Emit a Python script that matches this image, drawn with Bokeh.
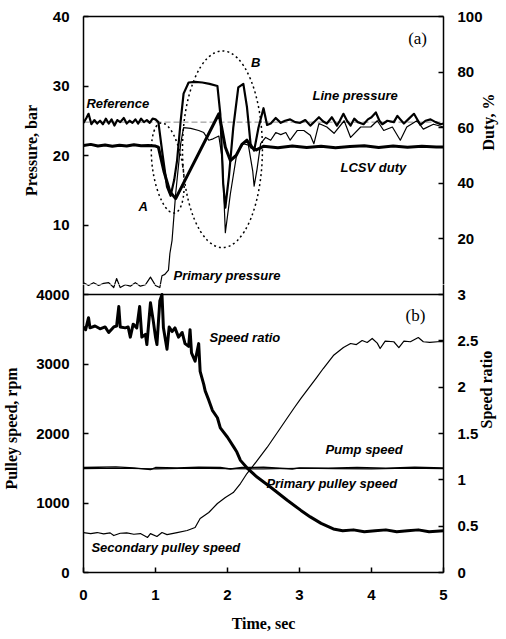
import math
from bokeh.plotting import figure
from bokeh.layouts import column
from bokeh.models import Range1d, LinearAxis, FixedTicker, NumeralTickFormatter, Label, Span
from bokeh.embed import file_html
from bokeh.resources import INLINE

# ---------------- data: panel (a) ----------------
t_ref = [0.0, 5.0]
reference = [24.8, 24.8]

t_line = [0.00, 0.04, 0.07, 0.11, 0.15, 0.19, 0.23, 0.27, 0.31, 0.35, 0.39, 0.43, 0.47, 0.51,
          0.56, 0.60, 0.64, 0.68, 0.72, 0.76, 0.80, 0.84, 0.88, 0.92, 0.96, 1.00, 1.04,
          1.10, 1.16, 1.21, 1.26, 1.30, 1.35, 1.39, 1.46, 1.55, 1.65, 1.75, 1.86, 1.90, 1.94,
          1.97, 2.02, 2.08, 2.15, 2.22, 2.27, 2.32, 2.37, 2.43, 2.50, 2.55, 2.60, 2.67, 2.74,
          2.80, 2.87, 2.94, 3.01, 3.08, 3.15, 3.21, 3.27, 3.33, 3.38, 3.45, 3.52, 3.56, 3.61,
          3.66, 3.71, 3.76, 3.81, 3.89, 3.95, 4.00, 4.06, 4.11, 4.15, 4.22, 4.31, 4.36, 4.40,
          4.45, 4.52, 4.59, 4.64, 4.68, 4.75, 4.82, 4.89, 4.96, 5.00]
line_pressure = [24.7, 25.4, 26.0, 24.5, 25.1, 24.6, 25.0, 24.5, 25.3, 24.6, 25.2, 24.3, 25.1, 24.8,
                 25.4, 24.6, 25.0, 24.7, 25.2, 24.6, 25.3, 24.8, 25.1, 24.7, 25.3, 25.2, 24.8,
                 20.0, 15.5, 14.2, 16.5, 19.3, 25.0, 28.9, 30.5, 30.6, 30.5, 30.3, 30.0, 26.0, 16.0,
                 12.5, 17.0, 24.0, 29.8, 30.3, 27.0, 21.7, 20.7, 24.0, 26.8, 24.4, 24.6, 25.4, 24.7,
                 25.0, 25.2, 24.8, 24.7, 25.1, 24.3, 24.9, 25.5, 24.9, 24.6, 25.5, 24.3, 25.0, 26.0,
                 25.0, 24.3, 25.3, 24.8, 24.5, 25.2, 25.5, 26.2, 25.0, 24.5, 25.0, 24.8, 25.7, 25.2,
                 24.6, 25.3, 26.0, 25.1, 24.4, 25.0, 25.2, 24.8, 24.5, 24.6]

t_duty = [0.00, 0.10, 0.20, 0.30, 0.40, 0.50, 0.60, 0.70, 0.80, 0.90, 1.00, 1.04, 1.12, 1.20,
          1.28, 1.88, 1.92, 1.97, 2.04, 2.12, 2.20, 2.27, 2.33, 2.40, 2.50, 2.70, 2.90, 3.10,
          3.30, 3.50, 3.70, 3.90, 4.10, 4.30, 4.50, 4.70, 4.90, 5.00]
lcsv_duty = [53.6, 54.0, 53.4, 53.8, 53.3, 53.7, 53.4, 53.9, 53.5, 53.6, 53.4, 53.0, 44.0, 37.0,
             34.5, 65.0, 60.0, 53.0, 48.2, 50.0, 54.0, 55.5, 53.0, 52.0, 53.3, 52.8, 53.4, 52.9,
             53.3, 52.8, 53.2, 53.5, 52.9, 53.4, 53.0, 53.3, 53.1, 53.1]

t_prim = [0.00, 0.07, 0.14, 0.21, 0.28, 0.35, 0.42, 0.46, 0.51, 0.58, 0.65, 0.72, 0.79, 0.86,
          0.93, 1.00, 1.06, 1.09, 1.13, 1.18, 1.20, 1.23, 1.28, 1.35, 1.39, 1.49, 1.60, 1.67,
          1.74, 1.80, 1.88, 1.93, 1.97, 2.04, 2.13, 2.22, 2.29, 2.35, 2.37, 2.41, 2.46, 2.53,
          2.60, 2.67, 2.74, 2.81, 2.87, 2.97, 3.06, 3.15, 3.20, 3.27, 3.38, 3.48, 3.62, 3.71,
          3.85, 3.99, 4.08, 4.17, 4.29, 4.40, 4.49, 4.63, 4.72, 4.86, 5.00]
primary_pressure = [1.7, 1.3, 1.7, 1.3, 1.6, 1.7, 1.0, 2.3, 1.0, 1.4, 1.2, 1.7, 1.2, 1.4,
                    2.5, 1.3, 1.0, 2.7, 2.9, 3.5, 5.9, 7.8, 14.5, 21.7, 24.0, 23.9, 23.6, 23.3,
                    22.2, 22.4, 22.8, 19.3, 8.9, 14.5, 20.3, 21.7, 21.5, 17.8, 15.6, 18.0, 21.7, 22.6,
                    22.2, 23.3, 23.0, 23.3, 22.2, 23.6, 23.6, 22.9, 21.7, 24.6, 24.1, 23.2, 25.0, 22.6,
                    24.1, 24.1, 25.0, 23.6, 24.1, 22.2, 24.1, 25.0, 23.8, 24.5, 24.1]

# ---------------- data: panel (b) ----------------
t_ratio = [0.00, 0.03, 0.07, 0.09, 0.16, 0.23, 0.30, 0.35, 0.42, 0.46, 0.49, 0.51, 0.58, 0.62,
           0.65, 0.69, 0.74, 0.78, 0.81, 0.86, 0.88, 0.93, 0.97, 1.00, 1.02, 1.06, 1.09, 1.11,
           1.16, 1.19, 1.23, 1.27, 1.32, 1.37, 1.41, 1.46, 1.48, 1.50, 1.55, 1.60, 1.62, 1.67,
           1.69, 1.74, 1.79, 1.86, 1.90, 2.00, 2.09, 2.13, 2.18, 2.27, 2.41, 2.60, 2.83, 3.02,
           3.15, 3.30, 3.47, 3.60, 3.75, 3.90, 4.05, 4.20, 4.35, 4.50, 4.65, 4.80, 5.00]
speed_ratio = [2.65, 2.62, 2.75, 2.64, 2.66, 2.63, 2.65, 2.59, 2.65, 2.66, 2.87, 2.65, 2.64, 2.65,
               2.54, 2.68, 2.64, 2.87, 2.54, 2.57, 2.46, 2.91, 2.71, 2.54, 2.46, 2.93, 3.00, 2.64,
               2.41, 2.65, 2.60, 2.64, 2.54, 2.59, 2.47, 2.44, 2.62, 2.37, 2.28, 2.47, 2.17, 2.03,
               1.96, 1.86, 1.75, 1.67, 1.56, 1.46, 1.35, 1.30, 1.21, 1.13, 1.03, 0.92, 0.78, 0.67,
               0.60, 0.53, 0.47, 0.45, 0.46, 0.44, 0.45, 0.46, 0.44, 0.45, 0.46, 0.44, 0.45]

t_pump = [0.00, 0.20, 0.45, 0.70, 0.93, 1.00, 1.30, 1.60, 1.90, 2.04, 2.20, 2.50, 2.90, 3.00,
          3.40, 3.80, 4.20, 4.60, 5.00]
pump_speed = [1510, 1515, 1520, 1505, 1480, 1510, 1505, 1515, 1510, 1490, 1510, 1515, 1490, 1505,
              1500, 1510, 1500, 1515, 1505]

t_ppul = [0.0, 0.5, 1.0, 1.5, 2.0, 2.5, 3.0, 3.5, 4.0, 4.5, 5.0]
primary_pulley = [1495, 1500, 1490, 1500, 1495, 1490, 1500, 1495, 1490, 1500, 1495]

t_sec = [0.00, 0.10, 0.19, 0.28, 0.37, 0.42, 0.51, 0.60, 0.70, 0.79, 0.89, 0.93, 1.02, 1.09,
         1.16, 1.30, 1.44, 1.55, 1.62, 1.74, 1.86, 1.97, 2.08, 2.18, 2.27, 2.36, 2.55, 2.74,
         2.92, 3.02, 3.24, 3.33, 3.47, 3.61, 3.71, 3.79, 3.87, 3.94, 4.01, 4.08, 4.12, 4.19,
         4.31, 4.38, 4.45, 4.54, 4.65, 4.72, 4.81, 4.96, 5.00]
secondary_pulley = [575, 560, 575, 555, 570, 532, 565, 570, 550, 560, 504, 560, 518, 575,
                    545, 575, 604, 648, 777, 863, 993, 1079, 1151, 1280, 1424, 1540, 1799, 2086,
                    2360, 2504, 2806, 2935, 3122, 3237, 3295, 3280, 3338, 3310, 3367, 3300, 3223, 3330,
                    3320, 3237, 3330, 3320, 3381, 3320, 3310, 3324, 3320]

time_ticks = [0, 1, 2, 3, 4, 5]
pressure_ticks = [10, 20, 30, 40]
duty_ticks = [20, 40, 60, 80, 100]
rpm_ticks = [0, 1000, 2000, 3000, 4000]
ratio_ticks = [0, 0.5, 1, 1.5, 2, 2.5, 3]

# ---------------- layout geometry ----------------
PANEL_PX = 278          # height of one panel in pixels
GAP_PX = 10             # strip of the lower canvas above the panel boundary (room for "4000"/"3")
FW = 360
x_range = Range1d(0, 5)


def style_axis(ax, standoff=14):
    ax.major_label_text_font = "Liberation Sans"
    ax.major_label_text_font_style = "bold"
    ax.major_label_text_font_size = "15px"
    ax.major_label_text_color = "black"
    ax.major_tick_in = 5
    ax.major_tick_out = 0
    ax.minor_tick_in = 0
    ax.minor_tick_out = 0
    ax.axis_line_color = "black"
    ax.axis_line_width = 1.5
    ax.major_tick_line_color = "black"
    ax.major_tick_line_width = 1.5
    ax.major_label_standoff = standoff
    ax.axis_label_text_font = "Liberation Serif"
    ax.axis_label_text_font_style = "bold"
    ax.axis_label_text_font_size = "16px"
    ax.axis_label_text_color = "black"


def note(p, x, y, text, rng="default", align="left", font="Liberation Sans",
         style="bold italic", size="13px"):
    kw = dict(x=x, y=y, text=text, text_align=align, text_baseline="middle", text_font=font,
              text_font_style=style, text_font_size=size, text_color="black")
    if rng != "default":
        kw["y_range_name"] = rng
    p.add_layout(Label(**kw))


# ---------------- panel (a) ----------------
p_lo = 40.0 * GAP_PX / PANEL_PX
pa = figure(frame_width=FW, frame_height=PANEL_PX - GAP_PX, x_range=x_range,
            y_range=Range1d(p_lo, 40), x_axis_location="above",
            output_backend="svg", toolbar_location=None,
            min_border_left=83, min_border_right=63, min_border_top=16, min_border_bottom=0,
            background_fill_color="white", border_fill_color="white")
pa.outline_line_color = None
pa.xgrid.visible = False
pa.ygrid.visible = False
pa.extra_y_ranges = {"duty": Range1d(p_lo * 2.5, 100)}
style_axis(pa.xaxis[0])
pa.xaxis.ticker = FixedTicker(ticks=[])
pa.xaxis.major_label_text_font_size = "0px"
style_axis(pa.yaxis[0])
pa.yaxis.ticker = FixedTicker(ticks=pressure_ticks)
pa.yaxis.axis_label = "Pressure, bar"
pa.yaxis.axis_label_standoff = 10
duty_axis = LinearAxis(y_range_name="duty", ticker=FixedTicker(ticks=duty_ticks))
style_axis(duty_axis)
duty_axis.axis_label = "Duty, %"
duty_axis.axis_label_orientation = math.pi / 2
duty_axis.axis_label_standoff = 3
pa.add_layout(duty_axis, "right")

pa.line(t_ref, reference, line_color="#888888", line_width=1, line_dash="6 3")
pa.line(t_prim, primary_pressure, line_color="black", line_width=1.2, line_join="round")
pa.line(t_line, line_pressure, line_color="black", line_width=2.2, line_join="round")
pa.line(t_duty, lcsv_duty, y_range_name="duty", line_color="black", line_width=3,
        line_join="round")
pa.ellipse(x=[1.17], y=[18.2], width=[0.42], height=[13.1], angle=0.15,
           fill_color=None, line_color="black", line_width=1.5, line_dash="2 3")
pa.ellipse(x=[1.93], y=[20.9], width=[1.11], height=[28.3],
           fill_color=None, line_color="black", line_width=1.5, line_dash="2 3")

note(pa, 0.04, 27.5, "Reference")
note(pa, 3.18, 28.6, "Line pressure")
note(pa, 3.57, 18.3, "LCSV duty")
note(pa, 1.25, 2.7, "Primary pressure")
note(pa, 0.83, 12.7, "A", align="center")
note(pa, 2.39, 33.4, "B", align="center")
note(pa, 4.64, 36.8, "(a)", align="center", font="Liberation Serif", style="normal", size="17px")

# ---------------- panel (b) ----------------
r_hi = 4000.0 * (PANEL_PX + GAP_PX) / PANEL_PX
pb = figure(frame_width=FW, frame_height=PANEL_PX + GAP_PX, x_range=x_range,
            y_range=Range1d(0, r_hi),
            output_backend="svg", toolbar_location=None,
            min_border_left=83, min_border_right=63, min_border_top=0, min_border_bottom=67,
            background_fill_color="white", border_fill_color="white")
pb.outline_line_color = None
pb.xgrid.visible = False
pb.ygrid.visible = False
pb.extra_y_ranges = {"ratio": Range1d(0, 3.0 * (PANEL_PX + GAP_PX) / PANEL_PX),
                     "press": Range1d(-40, p_lo)}
style_axis(pb.xaxis[0], standoff=17)
pb.xaxis.ticker = FixedTicker(ticks=time_ticks)
pb.xaxis.axis_label = "Time, sec"
pb.xaxis.axis_label_standoff = 12
style_axis(pb.yaxis[0])
pb.yaxis.ticker = FixedTicker(ticks=rpm_ticks)
pb.yaxis.axis_label = "Pulley speed, rpm"
pb.yaxis.axis_label_standoff = 13
ratio_axis = LinearAxis(y_range_name="ratio", ticker=FixedTicker(ticks=ratio_ticks),
                        formatter=NumeralTickFormatter(format="0.[0]"))
style_axis(ratio_axis)
ratio_axis.axis_label = "Speed ratio"
ratio_axis.axis_label_orientation = math.pi / 2
ratio_axis.axis_label_standoff = 5
pb.add_layout(ratio_axis, "right")

# low end of the primary-pressure trace continues into the strip above the panel boundary
pb.line(t_prim, primary_pressure, y_range_name="press", line_color="black", line_width=1.2,
        line_join="round")

# boundary between the panels
pb.add_layout(Span(location=4000, dimension="width", line_color="black", line_width=1.5))

pb.line(t_ppul, primary_pulley, line_color="black", line_width=1.2, line_join="round")
pb.line(t_pump, pump_speed, line_color="black", line_width=1.4, line_join="round")
pb.line(t_sec, secondary_pulley, line_color="black", line_width=1.2, line_join="round")
pb.line(t_ratio, speed_ratio, y_range_name="ratio", line_color="black", line_width=3,
        line_join="round")

note(pb, 1.75, 3381, "Speed ratio")
note(pb, 3.36, 1770, "Pump speed")
note(pb, 2.54, 1280, "Primary pulley speed")
note(pb, 0.11, 360, "Secondary pulley speed")
note(pb, 4.61, 3698, "(b)", align="center", font="Liberation Serif", style="normal", size="17px")

layout = column(pa, pb, spacing=0)
open("out.html", "w").write(file_html(layout, INLINE))
